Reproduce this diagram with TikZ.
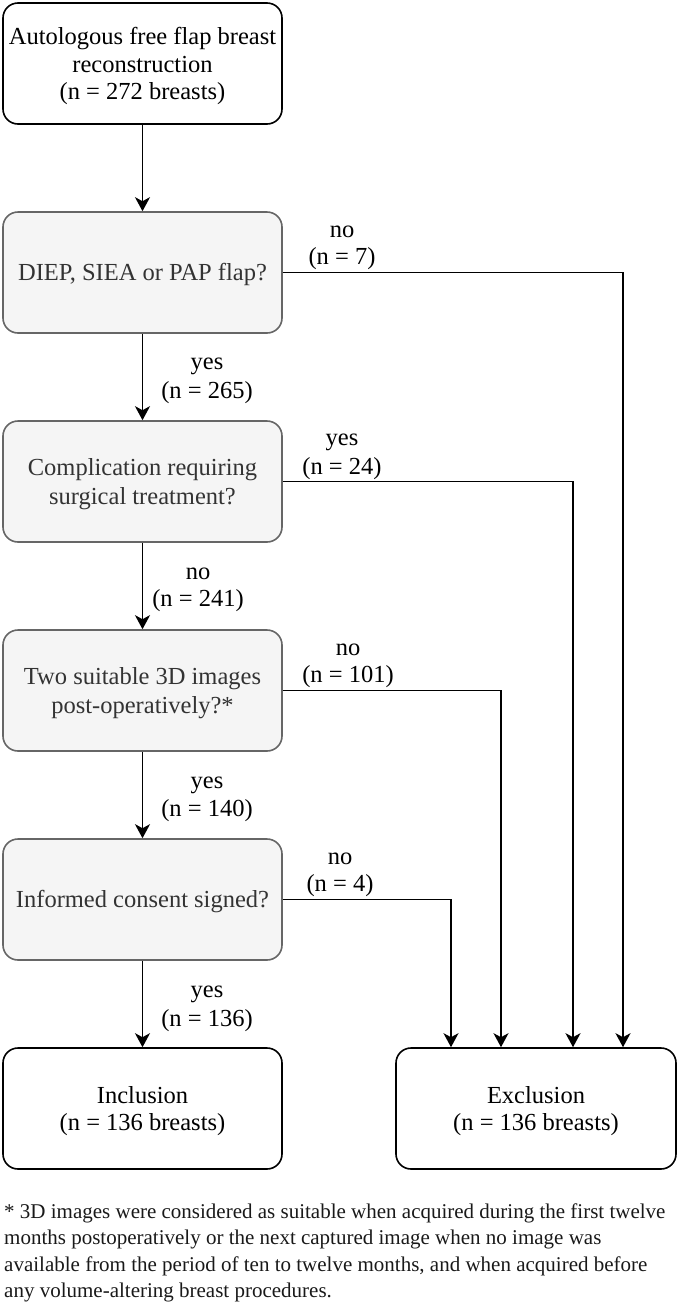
\documentclass[tikz,border=0pt]{standalone}
\usepackage{fontspec}
\setmainfont{Liberation Serif}
\usetikzlibrary{arrows.meta,calc}
\definecolor{gfill}{HTML}{F5F5F5}
\definecolor{gline}{HTML}{666666}
\definecolor{gtext}{HTML}{333333}
\newcommand\hs{\rule[-4pt]{0pt}{26pt}}
\begin{document}
\begin{tikzpicture}[x=1pt,y=-1pt,
  box/.style={draw=black, fill=white, line width=1.6pt, rounded corners=15pt,
    minimum width=279pt, minimum height=121pt, align=center, inner sep=0pt,
    font=\fontsize{24.5}{27}\selectfont, text=black},
  qbox/.style={box, draw=gline, fill=gfill, text=gtext},
  arr/.style={line width=1.8pt, -{Stealth[length=14pt,width=15pt,inset=4pt]}},
  lbl/.style={align=center, inner sep=0pt, font=\fontsize{24.5}{27}\selectfont, text=black},
  note/.style={anchor=north west, inner sep=0pt, align=left,
    font=\fontsize{21}{26.5}\selectfont, text=black!90}]
\useasboundingbox (0,0) rectangle (680,1304);

\node[box]  (start) at (142.5,63.5)  {\hs Autologous free flap breast\\\hs reconstruction\\\hs (n = 272 breasts)};
\node[qbox] (q1)    at (142.5,272.5) {\hs DIEP, SIEA or PAP flap?};
\node[qbox] (q2)    at (142.5,481.5) {\hs Complication requiring\\\hs surgical treatment?};
\node[qbox] (q3)    at (142.5,690.5) {\hs Two suitable 3D images\\\hs post-operatively?*};
\node[qbox] (q4)    at (142.5,899.5) {\hs Informed consent signed?};
\node[box]  (inc)   at (142.5,1108.5) {\hs Inclusion\\\hs (n = 136 breasts)};
\node[box, minimum width=280pt] (exc) at (536,1108.5) {\hs Exclusion\\\hs (n = 136 breasts)};

% vertical flow
\draw[arr] (start) -- (q1);
\draw[arr] (q1) -- (q2);
\draw[arr] (q2) -- (q3);
\draw[arr] (q3) -- (q4);
\draw[arr] (q4) -- (inc);

\node[lbl] (l1) at (207,375.5)  {\hs yes\\\hs (n = 265)};
\node[lbl] (l2) at (198,584.5)  {\hs no\\\hs (n = 241)};
\node[lbl] (l3) at (207,794)    {\hs yes\\\hs (n = 140)};
\node[lbl] (l4) at (207,1003.5) {\hs yes\\\hs (n = 136)};

% exclusion branches
\draw[arr] (q1.east) -| ([xshift=87pt]exc.north);
\draw[arr] (q2.east) -| ([xshift=37pt]exc.north);
\draw[arr] (q3.east) -| ([xshift=-35pt]exc.north);
\draw[arr] (q4.east) -| ([xshift=-85pt]exc.north);

\node[lbl] (e1) at (342,242.5) {\hs no\\\hs (n = 7)};
\node[lbl] (e2) at (342,451.5) {\hs yes\\\hs (n = 24)};
\node[lbl] (e3) at (348,660.5) {\hs no\\\hs (n = 101)};
\node[lbl] (e4) at (340,869.5) {\hs no\\\hs (n = 4)};

\node[note] (fn) at (4,1200) {\rule{0pt}{18pt}* 3D images were considered as suitable when acquired during the first twelve\\
months postoperatively or the next captured image when no image was\\
available from the period of ten to twelve months, and when acquired before\\
any volume-altering breast procedures.};
\end{tikzpicture}
\end{document}
